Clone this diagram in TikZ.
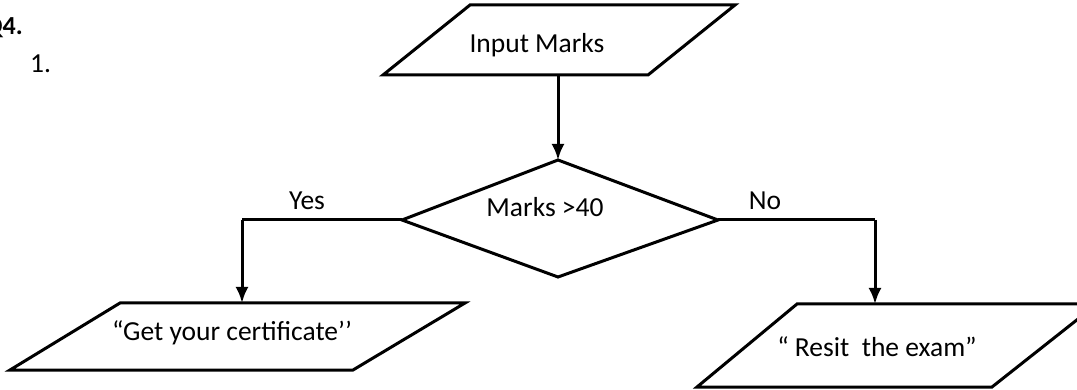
\documentclass[tikz,border=0pt]{standalone}
\usepackage{fontspec}
\setmainfont{Carlito}
\usetikzlibrary{arrows.meta}
\begin{document}
\begin{tikzpicture}[x=1pt,y=-1pt,
  shapeline/.style={line width=3pt, line join=miter},
  conn/.style={line width=3pt, -{Latex[length=16pt,width=13pt]}},
  plain/.style={line width=3pt},
  lbl/.style={font=\fontsize{27.5}{30}\selectfont, inner sep=0pt},
  qlbl/.style={font=\fontsize{26}{30}\selectfont\bfseries, inner sep=0pt},
  ]
\clip (0,0) rectangle (1077,390);
\fill[white] (0,0) rectangle (1077,390);
% headings
\node[qlbl, anchor=base east] (q) at (23,35) {Q4.};
\node[lbl, anchor=base west] (one) at (30,73) {1.};
% input parallelogram
\coordinate (inTL) at (470,5); \coordinate (inTR) at (735,5);
\coordinate (inBR) at (648,75); \coordinate (inBL) at (383,75);
\draw[shapeline] (inTL) -- (inTR) -- (inBR) -- (inBL) -- cycle;
\node[lbl] (input) at (537,45) {Input Marks};
\coordinate (inB) at (558,75);
% decision diamond
\coordinate (dT) at (558,160); \coordinate (dR) at (718,220);
\coordinate (dB) at (558,277); \coordinate (dL) at (402,220);
\draw[shapeline] (dT) -- (dR) -- (dB) -- (dL) -- cycle;
\node[lbl] (dec) at (545,207) {Marks >40};
% left output
\coordinate (gTL) at (120,303); \coordinate (gTR) at (465,303);
\coordinate (gBR) at (353,370); \coordinate (gBL) at (10,370);
\draw[shapeline] (gTL) -- (gTR) -- (gBR) -- (gBL) -- cycle;
\node[lbl] (get) at (232,333) {“Get your certificate’’};
\coordinate (gT) at (242,303);
% right output
\coordinate (rTL) at (797,304); \coordinate (rTR) at (1097,304);
\coordinate (rBR) at (992,387); \coordinate (rBL) at (697,387);
\draw[shapeline] (rTL) -- (rTR) -- (rBR) -- (rBL) -- cycle;
\node[lbl] (resit) at (877,347) {“ Resit\ \ the exam”};
\coordinate (rT) at (875,304);
% connectors
\draw[conn] (inB) -- (dT);
\coordinate (yc) at (242,220);
\coordinate (nc) at (875,220);
\draw[plain] (dL) -- (yc);
\draw[conn] (yc) -- (gT);
\draw[plain] (dR) -- (nc);
\draw[conn] (nc) -- (rT);
\node[lbl] (yes) at (307,201) {Yes};
\node[lbl] (no) at (765,201) {No};
\end{tikzpicture}
\end{document}
